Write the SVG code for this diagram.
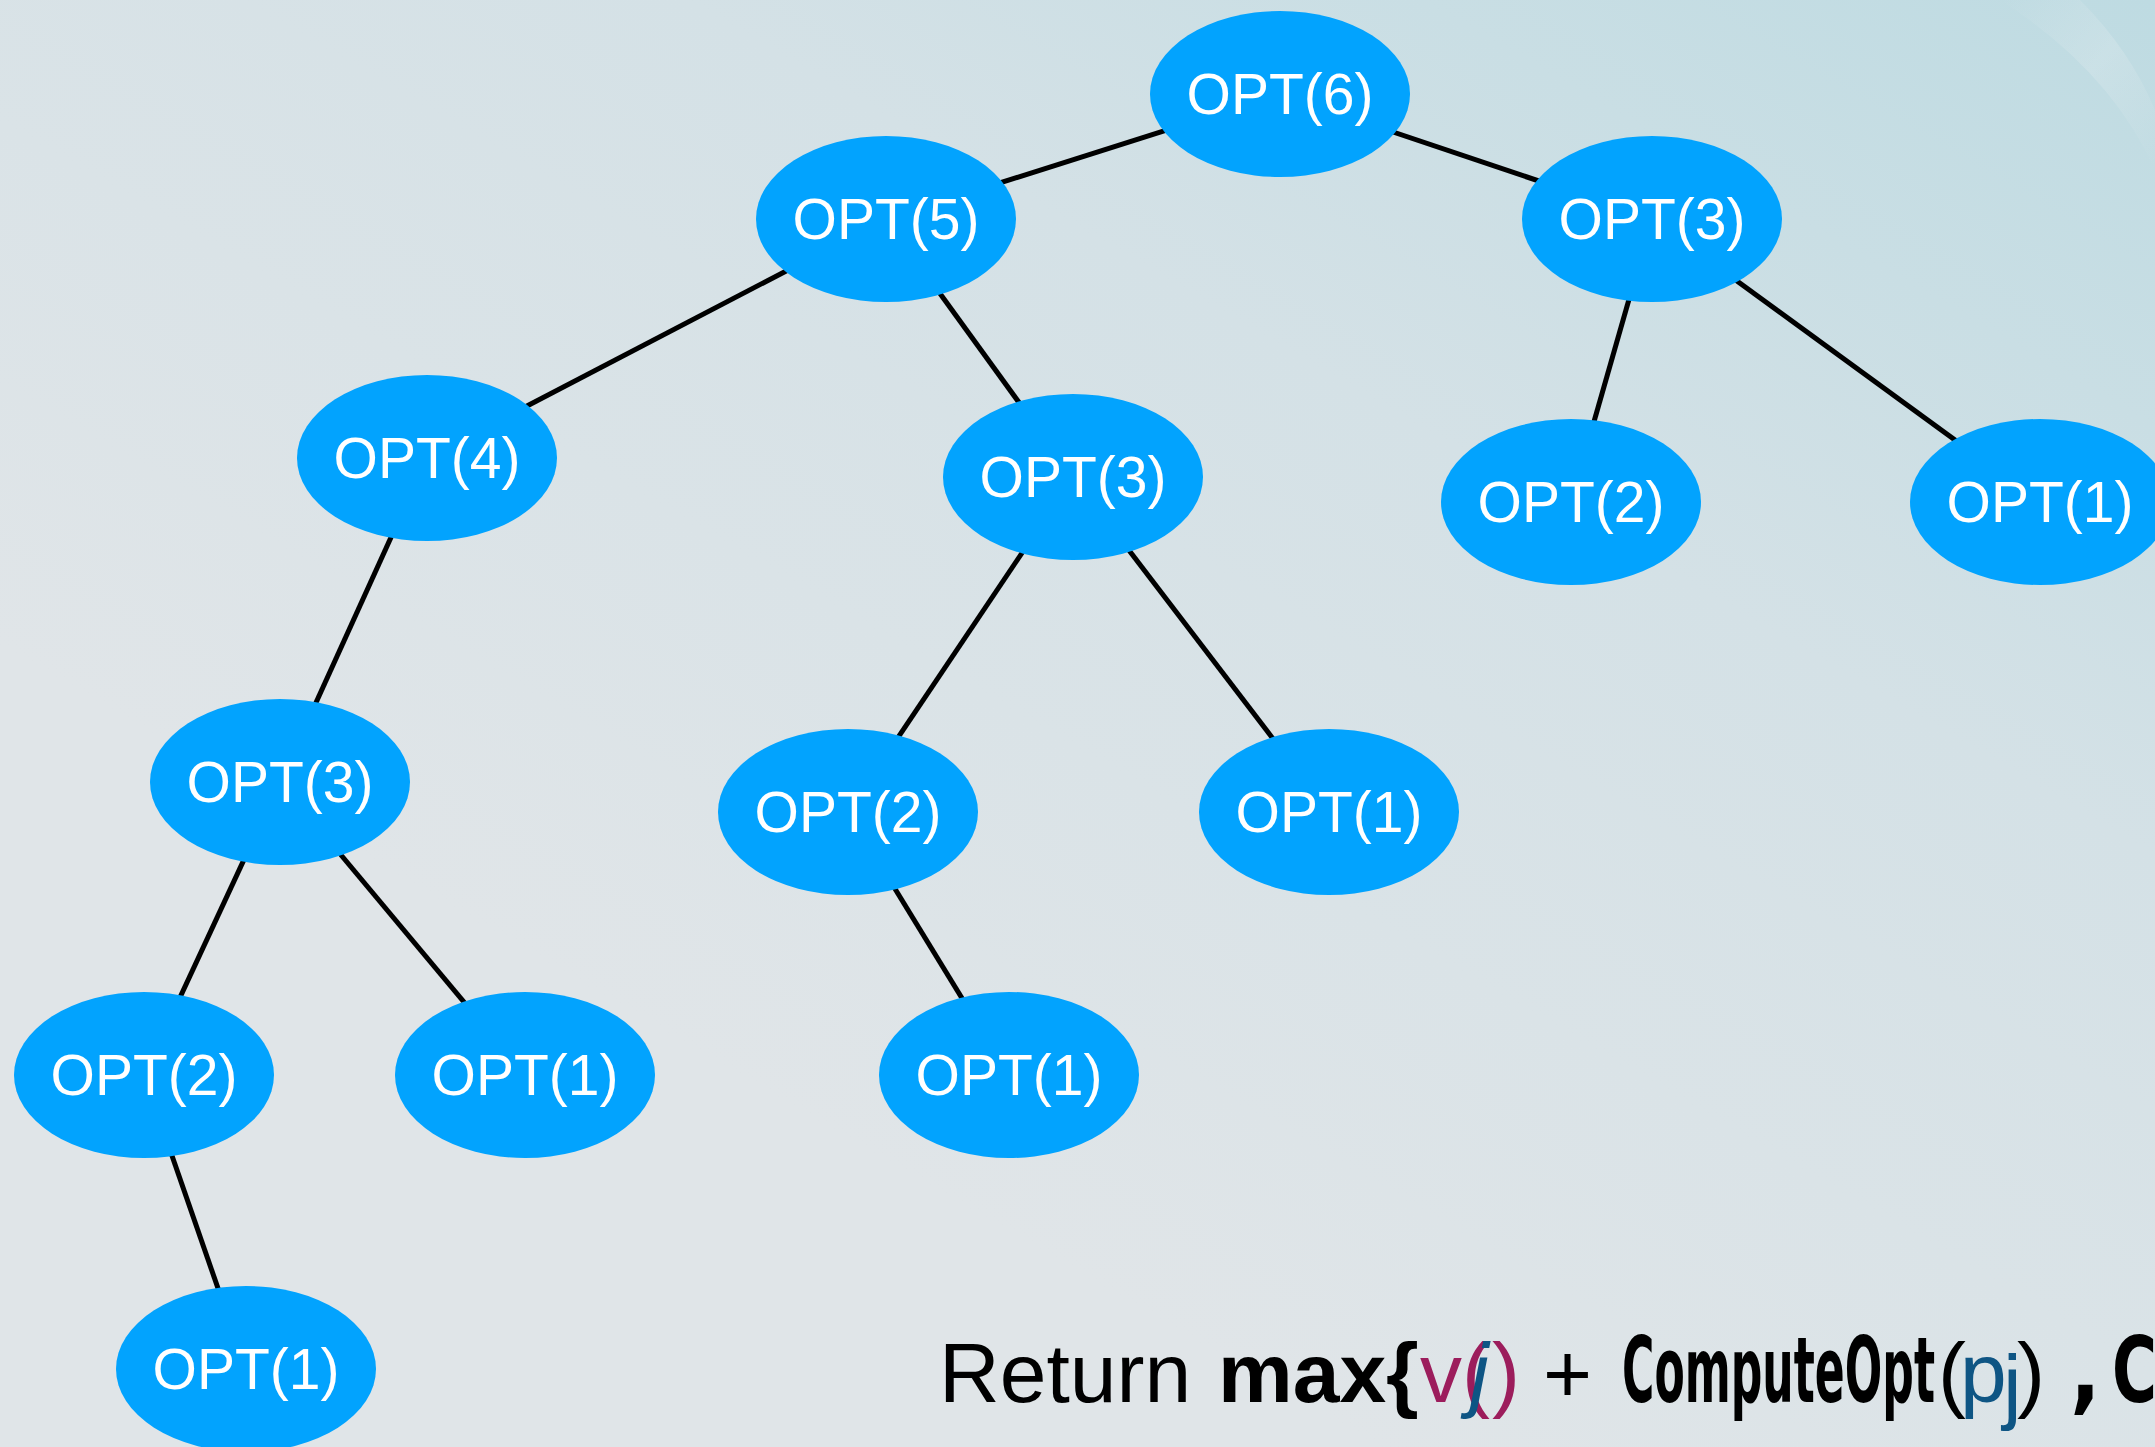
<svg xmlns="http://www.w3.org/2000/svg" width="2155" height="1447" viewBox="0 0 2155 1447">
<defs>
<linearGradient id="bg" x1="1" y1="0" x2="0.35" y2="0.75">
<stop offset="0" stop-color="#bedbe2"/>
<stop offset="0.45" stop-color="#d4e1e6"/>
<stop offset="1" stop-color="#e0e5e8"/>
</linearGradient>
<linearGradient id="band" x1="0" y1="0" x2="1" y2="1">
<stop offset="0" stop-color="#e2ecef" stop-opacity="0"/>
<stop offset="0.5" stop-color="#e2ecef" stop-opacity="0.3"/>
<stop offset="1" stop-color="#e2ecef" stop-opacity="0"/>
</linearGradient>
<style>
.n ellipse{fill:#02a3fe;}
.n text{fill:#ffffff;font-family:"Liberation Sans",Arial,sans-serif;font-size:57px;text-anchor:middle;}
.e line{stroke:#000;stroke-width:5;}
.t{font-family:"Liberation Sans",Arial,sans-serif;font-size:84px;}
.c{font-family:"DejaVu Sans Condensed","DejaVu Sans",sans-serif;font-stretch:condensed;font-weight:bold;font-size:90px;}
</style>
</defs>
<rect width="2155" height="1447" fill="url(#bg)"/>
<path d="M2000 0 L2080 0 Q2130 50 2155 110 L2155 170 Q2110 70 2000 0 Z" fill="url(#band)"/>
<g id="connectors" class="e">
<line x1="1280" y1="94" x2="886" y2="219"/>
<line x1="1280" y1="94" x2="1652" y2="219"/>
<line x1="886" y1="219" x2="427" y2="458"/>
<line x1="886" y1="219" x2="1073" y2="477"/>
<line x1="1652" y1="219" x2="1571" y2="502"/>
<line x1="1652" y1="219" x2="2040" y2="502"/>
<line x1="427" y1="458" x2="280" y2="782"/>
<line x1="1073" y1="477" x2="848" y2="812"/>
<line x1="1073" y1="477" x2="1329" y2="812"/>
<line x1="280" y1="782" x2="144" y2="1075"/>
<line x1="280" y1="782" x2="525" y2="1075"/>
<line x1="848" y1="812" x2="1009" y2="1075"/>
<line x1="144" y1="1075" x2="246" y2="1369"/>
</g>
<g id="n6" class="n"><ellipse cx="1280" cy="94" rx="130" ry="83"/><text x="1280" y="114">OPT(6)</text></g>
<g id="n5" class="n"><ellipse cx="886" cy="219" rx="130" ry="83"/><text x="886" y="239">OPT(5)</text></g>
<g id="n3r" class="n"><ellipse cx="1652" cy="219" rx="130" ry="83"/><text x="1652" y="239">OPT(3)</text></g>
<g id="n4" class="n"><ellipse cx="427" cy="458" rx="130" ry="83"/><text x="427" y="478">OPT(4)</text></g>
<g id="n3m" class="n"><ellipse cx="1073" cy="477" rx="130" ry="83"/><text x="1073" y="497">OPT(3)</text></g>
<g id="n2r" class="n"><ellipse cx="1571" cy="502" rx="130" ry="83"/><text x="1571" y="522">OPT(2)</text></g>
<g id="n1fr" class="n"><ellipse cx="2040" cy="502" rx="130" ry="83"/><text x="2040" y="522">OPT(1)</text></g>
<g id="n3l" class="n"><ellipse cx="280" cy="782" rx="130" ry="83"/><text x="280" y="802">OPT(3)</text></g>
<g id="n2m" class="n"><ellipse cx="848" cy="812" rx="130" ry="83"/><text x="848" y="832">OPT(2)</text></g>
<g id="n1m" class="n"><ellipse cx="1329" cy="812" rx="130" ry="83"/><text x="1329" y="832">OPT(1)</text></g>
<g id="n2l" class="n"><ellipse cx="144" cy="1075" rx="130" ry="83"/><text x="144" y="1095">OPT(2)</text></g>
<g id="n1lm" class="n"><ellipse cx="525" cy="1075" rx="130" ry="83"/><text x="525" y="1095">OPT(1)</text></g>
<g id="n1c" class="n"><ellipse cx="1009" cy="1075" rx="130" ry="83"/><text x="1009" y="1095">OPT(1)</text></g>
<g id="n1b" class="n"><ellipse cx="246" cy="1369" rx="130" ry="83"/><text x="246" y="1389">OPT(1)</text></g>
<g id="formula">
<text class="t" x="939" y="1402" fill="#000">Return</text>
<text class="t" x="1218" y="1402" fill="#000" font-weight="bold">max{</text>
<text class="t" x="1420" y="1402" fill="#9c1d5c">v(</text>
<text class="t" x="1470" y="1402" fill="#0e5584" font-style="italic">j</text>
<text class="t" x="1492" y="1402" fill="#9c1d5c">)</text>
<text class="t" x="1543" y="1402" fill="#000">+</text>
<text class="c" x="1622" y="1402" fill="#000" textLength="313" lengthAdjust="spacingAndGlyphs">ComputeOpt</text>
<text class="t" x="1938" y="1402" fill="#000">(</text>
<text class="t" x="1960" y="1402" fill="#0e5584">p</text>
<text class="t" x="2003" y="1414" fill="#0e5584" font-size="46">j</text>
<text class="t" x="2017" y="1402" fill="#000">)</text>
<text class="c" x="2070" y="1402" fill="#000">,</text>
<text class="c" x="2112" y="1402" fill="#000" textLength="45" lengthAdjust="spacingAndGlyphs">C</text>
</g>
</svg>
